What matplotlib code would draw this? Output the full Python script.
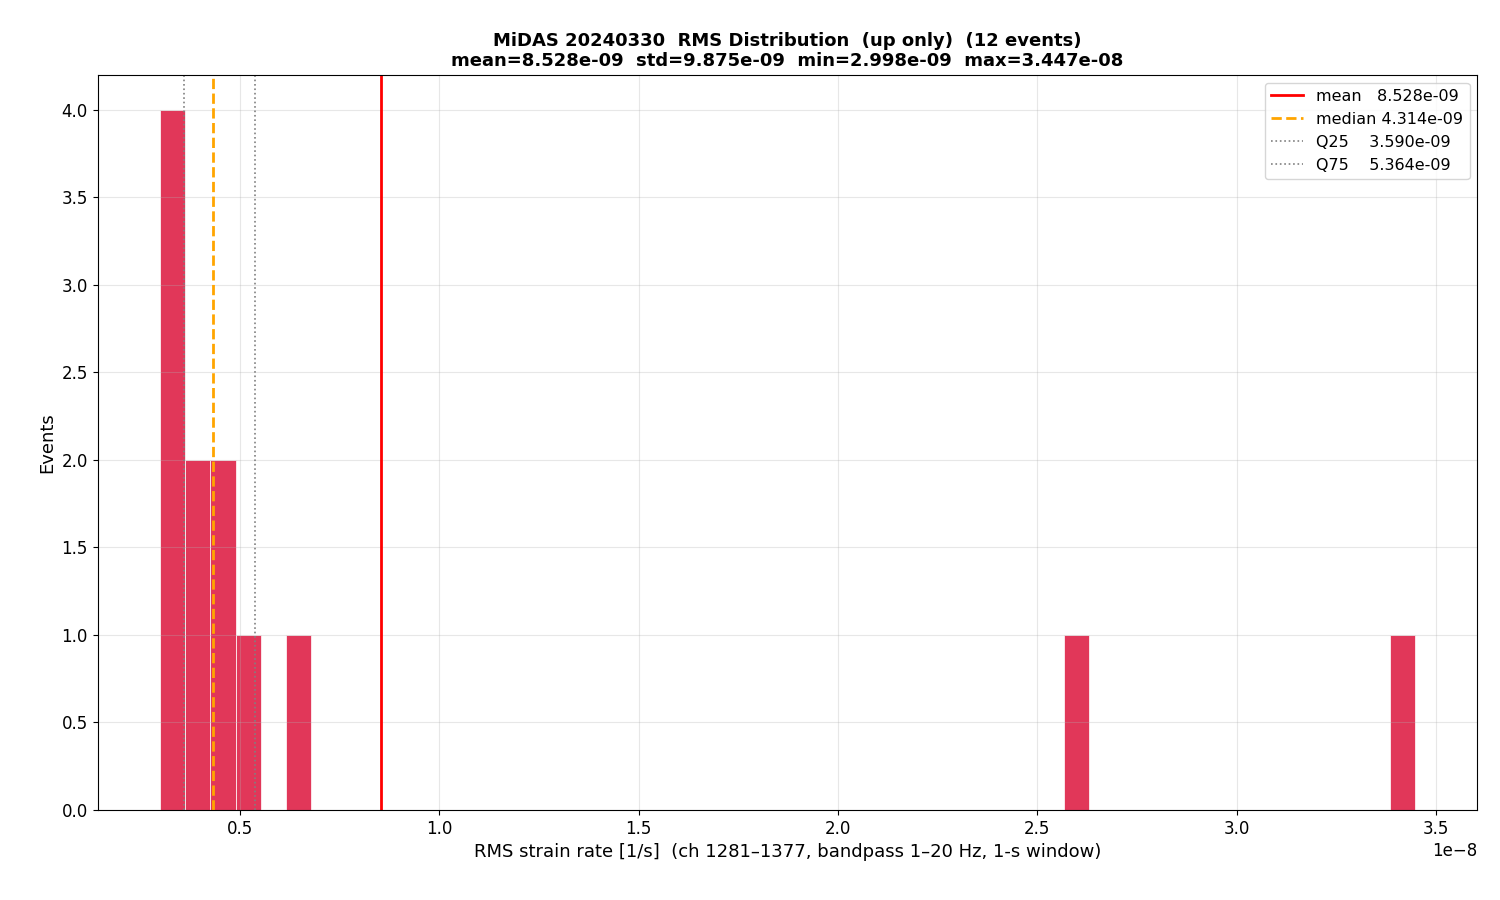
import numpy as np
import matplotlib
matplotlib.use("Agg")
import matplotlib.pyplot as plt

rms = np.array([2.998, 3.2, 3.55, 3.603, 3.9, 4.2, 4.428, 4.7, 5.019, 6.4, 25.868, 34.47]) * 1e-9

mean = rms.mean(); med = np.median(rms)
q25, q75 = np.percentile(rms, [25, 75])
std = rms.std()

fig, ax = plt.subplots(figsize=(15, 9), dpi=100)
ax.hist(rms, bins=50, color="#dc143c", alpha=0.85, edgecolor="white", linewidth=0.6)
ax.axvline(mean, color="red", lw=2, label=f"mean   {mean:.3e}")
ax.axvline(med, color="orange", lw=2, ls="--", label=f"median {med:.3e}")
ax.axvline(q25, color="gray", lw=1.2, ls=":", label=f"Q25    {q25:.3e}")
ax.axvline(q75, color="gray", lw=1.2, ls=":", label=f"Q75    {q75:.3e}")
ax.set_title(f"MiDAS 20240330  RMS Distribution  (up only)  ({len(rms)} events)\n"
             f"mean={mean:.3e}  std={std:.3e}  min={rms.min():.3e}  max={rms.max():.3e}",
             fontsize=13, fontweight="bold")
ax.set_xlabel("RMS strain rate [1/s]  (ch 1281–1377, bandpass 1–20 Hz, 1-s window)", fontsize=13)
ax.set_ylabel("Events", fontsize=13)
ax.tick_params(labelsize=12)
ax.xaxis.get_offset_text().set_fontsize(12)
ax.grid(alpha=0.3)
ax.legend(fontsize=11.5, loc="upper right")
fig.subplots_adjust(left=0.065, right=0.985, top=0.917, bottom=0.1)
fig.savefig("out.png")
